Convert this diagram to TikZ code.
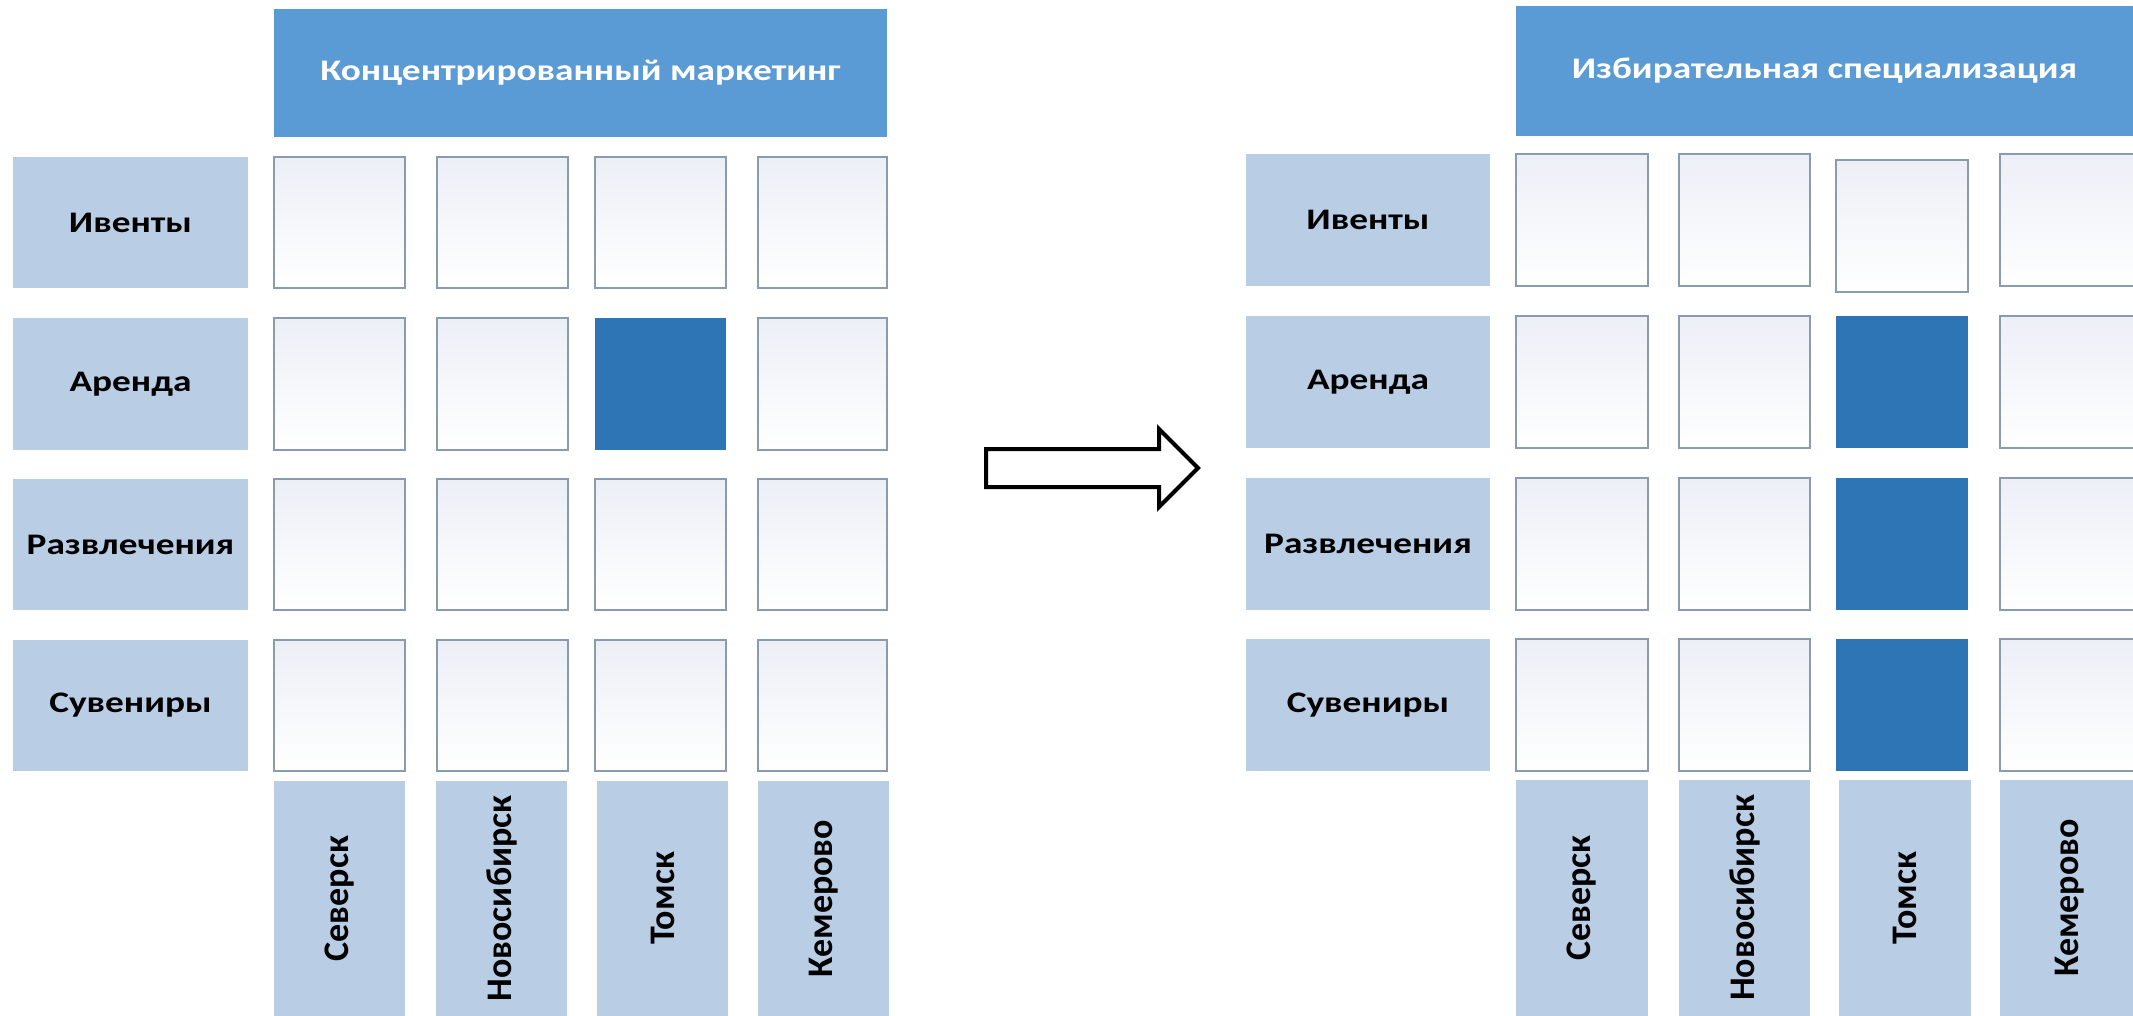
\documentclass[tikz,border=0pt]{standalone}
\usepackage{fontspec}
\setmainfont{Carlito}
\definecolor{hdr}{HTML}{5B9BD5}
\definecolor{lab}{HTML}{B9CDE5}
\definecolor{dark}{HTML}{2E75B6}
\definecolor{cellline}{HTML}{8A9AAF}
\definecolor{celltop}{HTML}{ECEFF6}
\tikzset{
  base/.style={inner sep=0pt, outer sep=0pt, rectangle},
  hdrbox/.style={base, fill=hdr, text=white, font=\fontsize{28}{32}\selectfont\bfseries},
  labbox/.style={base, fill=lab, text=black, font=\fontsize{28}{32}\selectfont\bfseries},
  collab/.style={base, fill=lab, text=black},
  emptycell/.style={base, draw=cellline, line width=1.1pt, top color=celltop, bottom color=white},
  darkcell/.style={base, fill=dark},
  blockarrow/.style={draw=black, fill=white, line width=3pt, line join=miter}
}
\newcommand\bx[7]{\node[#6, minimum width={(#4-#2)*0.75pt}, minimum height={(#5-#3)*0.75pt}] (#1) at ({(#2+#4)/2},{(#3+#5)/2}) {#7};}
\newcommand\sq[1]{\scalebox{1}[0.8]{#1}}
\newcommand\ctext[1]{\rotatebox{90}{\bfseries\fontsize{27}{30}\selectfont #1}}
\begin{document}
\begin{tikzpicture}[x=0.75pt,y=-0.75pt]
\useasboundingbox (0,0) rectangle (2133,1016);
% ---------- left panel ----------
\bx{Lh}{274}{9}{887}{137}{hdrbox}{\sq{Концентрированный маркетинг}}
\bx{Lr1}{13}{157}{248}{288}{labbox}{\sq{Ивенты}}
\bx{Lr2}{13}{318}{248}{450}{labbox}{\sq{Аренда}}
\bx{Lr3}{13}{479}{248}{610}{labbox}{\sq{Развлечения}}
\bx{Lr4}{13}{640}{248}{771}{labbox}{\sq{Сувениры}}
% cells row 1
\bx{L11}{274}{157}{405}{288}{emptycell}{}
\bx{L12}{437}{157}{568}{288}{emptycell}{}
\bx{L13}{595}{157}{726}{288}{emptycell}{}
\bx{L14}{758}{157}{887}{288}{emptycell}{}
% row 2
\bx{L21}{274}{318}{405}{450}{emptycell}{}
\bx{L22}{437}{318}{568}{450}{emptycell}{}
\bx{L23}{595}{318}{726}{450}{darkcell}{}
\bx{L24}{758}{318}{887}{450}{emptycell}{}
% row 3
\bx{L31}{274}{479}{405}{610}{emptycell}{}
\bx{L32}{437}{479}{568}{610}{emptycell}{}
\bx{L33}{595}{479}{726}{610}{emptycell}{}
\bx{L34}{758}{479}{887}{610}{emptycell}{}
% row 4
\bx{L41}{274}{640}{405}{771}{emptycell}{}
\bx{L42}{437}{640}{568}{771}{emptycell}{}
\bx{L43}{595}{640}{726}{771}{emptycell}{}
\bx{L44}{758}{640}{887}{771}{emptycell}{}
% column labels
\bx{Lc1}{274}{781}{405}{1016}{collab}{\ctext{Северск}}
\bx{Lc2}{436}{781}{567}{1016}{collab}{\ctext{Новосибирск}}
\bx{Lc3}{597}{781}{728}{1016}{collab}{\ctext{Томск}}
\bx{Lc4}{758}{781}{889}{1016}{collab}{\ctext{Кемерово}}
% ---------- arrow ----------
\draw[blockarrow] (986,449) -- (1159,449) -- (1159,429) -- (1198,468) -- (1159,507) -- (1159,487) -- (986,487) -- cycle;
% ---------- right panel ----------
\bx{Rh}{1516}{6}{2133}{136}{hdrbox}{\sq{Избирательная специализация}}
\bx{Rr1}{1246}{154}{1490}{286}{labbox}{\sq{Ивенты}}
\bx{Rr2}{1246}{316}{1490}{448}{labbox}{\sq{Аренда}}
\bx{Rr3}{1246}{478}{1490}{610}{labbox}{\sq{Развлечения}}
\bx{Rr4}{1246}{639}{1490}{771}{labbox}{\sq{Сувениры}}
% row 1
\bx{R11}{1516}{154}{1648}{286}{emptycell}{}
\bx{R12}{1679}{154}{1810}{286}{emptycell}{}
\bx{R13}{1836}{160}{1968}{292}{emptycell}{}
\bx{R14}{2000}{154}{2140}{286}{emptycell}{}
% row 2
\bx{R21}{1516}{316}{1648}{448}{emptycell}{}
\bx{R22}{1679}{316}{1810}{448}{emptycell}{}
\bx{R23}{1836}{316}{1968}{448}{darkcell}{}
\bx{R24}{2000}{316}{2140}{448}{emptycell}{}
% row 3
\bx{R31}{1516}{478}{1648}{610}{emptycell}{}
\bx{R32}{1679}{478}{1810}{610}{emptycell}{}
\bx{R33}{1836}{478}{1968}{610}{darkcell}{}
\bx{R34}{2000}{478}{2140}{610}{emptycell}{}
% row 4
\bx{R41}{1516}{639}{1648}{771}{emptycell}{}
\bx{R42}{1679}{639}{1810}{771}{emptycell}{}
\bx{R43}{1836}{639}{1968}{771}{darkcell}{}
\bx{R44}{2000}{639}{2140}{771}{emptycell}{}
% column labels
\bx{Rc1}{1516}{780}{1648}{1016}{collab}{\ctext{Северск}}
\bx{Rc2}{1679}{780}{1810}{1016}{collab}{\ctext{Новосибирск}}
\bx{Rc3}{1839}{780}{1971}{1016}{collab}{\ctext{Томск}}
\bx{Rc4}{2000}{780}{2140}{1016}{collab}{\ctext{Кемерово}}
\end{tikzpicture}
\end{document}
